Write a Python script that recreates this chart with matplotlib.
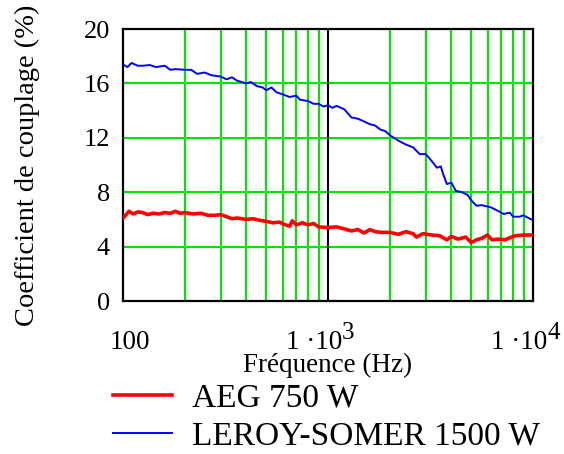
import matplotlib

matplotlib.use("Agg")
import matplotlib.pyplot as plt  # noqa: E402
from matplotlib.transforms import ScaledTranslation  # noqa: E402

plt.rcParams["font.family"] = ["Liberation Serif", "DejaVu Serif"]

# data
freq_aeg = [100, 103, 107, 112, 118, 125, 132, 140, 150, 160, 170, 180, 190,
            200, 220, 240, 260, 280, 300, 320, 340, 360, 400, 430, 460, 500,
            540, 580, 620, 650, 670, 700, 750, 800, 850, 900, 1000, 1100, 1200,
            1300, 1400, 1500, 1600, 1700, 1800, 2000, 2200, 2400, 2600, 2700,
            2900, 3200, 3500, 3800, 4000, 4300, 4700, 5000, 5300, 5600, 6000,
            6300, 6800, 7300, 7700, 8200, 9000, 10000]
coef_aeg = [6.1, 6.3, 6.6, 6.4, 6.55, 6.5, 6.35, 6.45, 6.4, 6.5, 6.45, 6.6,
            6.45, 6.5, 6.4, 6.45, 6.3, 6.3, 6.35, 6.2, 6.05, 6.1, 6.0, 6.05,
            5.95, 5.85, 5.75, 5.8, 5.6, 5.5, 5.9, 5.6, 5.75, 5.6, 5.7, 5.45,
            5.4, 5.45, 5.3, 5.15, 5.25, 5.0, 5.25, 5.1, 5.05, 5.05, 4.9, 5.1,
            4.95, 4.7, 4.95, 4.85, 4.8, 4.5, 4.75, 4.55, 4.7, 4.3, 4.5, 4.6,
            4.85, 4.5, 4.55, 4.5, 4.65, 4.8, 4.85, 4.85]

freq_ls = [100, 105, 110, 118, 125, 135, 145, 160, 170, 180, 200, 215, 230,
           250, 270, 300, 320, 340, 360, 400, 420, 450, 480, 500, 530, 560,
           600, 650, 700, 730, 800, 850, 900, 950, 1000, 1050, 1100, 1200,
           1300, 1400, 1500, 1600, 1700, 1800, 1900, 2000, 2200, 2400, 2600,
           2800, 3000, 3200, 3400, 3550, 3650, 3800, 4000, 4200, 4500, 4800,
           5000, 5300, 5600, 6200, 6800, 7200, 7700, 8000, 8600, 9000, 9500,
           10000]
coef_ls = [17.4, 17.2, 17.5, 17.3, 17.3, 17.35, 17.2, 17.3, 17.0, 17.05, 17.0,
           17.0, 16.7, 16.8, 16.6, 16.5, 16.3, 16.45, 16.2, 16.0, 16.1, 15.8,
           15.7, 15.5, 15.7, 15.35, 15.2, 15.0, 15.1, 14.8, 14.7, 14.5, 14.5,
           14.3, 14.4, 14.2, 14.35, 14.1, 13.5, 13.4, 13.2, 13.0, 12.9, 12.6,
           12.5, 12.2, 11.8, 11.5, 11.3, 10.8, 10.8, 10.3, 9.8, 9.9, 9.3, 8.6,
           8.7, 8.1, 8.0, 7.8, 7.4, 7.0, 7.05, 6.9, 6.6, 6.4, 6.5, 6.2, 6.2,
           6.3, 6.1, 5.95]

yticks = [0, 4, 8, 12, 16, 20]
xticks = [100, 1000, 10000]
xtick_mant = ["100", "1 ·10", "1 ·10"]   # Mathcad style "1·10^n"
xtick_exp = ["", "3", "4"]

GREEN = "#00e600"

fig = plt.figure(figsize=(5.64, 4.54), dpi=100)
ax = fig.add_axes([123 / 564, 1 - 301 / 454, 410 / 564, 272 / 454])
ax.set_xscale("log")
ax.set_xlim(100, 10000)
ax.set_ylim(0, 20)

# grid: green minor verticals, green horizontals, black decade line
for f in list(range(200, 1000, 100)) + list(range(2000, 10000, 1000)):
    ax.axvline(f, color=GREEN, lw=1.5, zorder=1)
for y in yticks[1:-1]:
    ax.axhline(y, color=GREEN, lw=1.5, zorder=1)
ax.axvline(1000, color="black", lw=1.5, zorder=1)

ax.plot(freq_aeg, coef_aeg, color="#ff0000", lw=2.6, label="AEG 750 W",
        zorder=3)
ax.plot(freq_ls, coef_ls, color="#0000ff", lw=1.4,
        label="LEROY-SOMER 1500 W", zorder=3)

ax.set_yticks(yticks)
ax.set_xticks(xticks)
ax.set_xticklabels([])
ax.minorticks_off()
ax.tick_params(length=0, labelsize=19)
ax.tick_params(axis="y", pad=9.5)


def px(dx, dy):
    return ScaledTranslation(dx / 100, dy / 100, fig.dpi_scale_trans)


# x tick labels drawn by hand: mantissa + raised exponent
xt = ax.get_xaxis_transform()
for x, m, e in zip(xticks, xtick_mant, xtick_exp):
    if not e:
        ax.text(x, 0, m, transform=xt + px(7, -48), ha="center",
                va="baseline", fontsize=19.5)
        continue
    ax.text(x, 0, m, transform=xt + px(14, -48), ha="right", va="baseline",
            fontsize=19.5)
    ax.text(x, 0, e, transform=xt + px(14, -38), ha="left", va="baseline",
            fontsize=18, clip_on=False)

for s in ax.spines.values():
    s.set_linewidth(1.6)

ax.set_ylabel("Coefficient de couplage (%)", fontsize=20.5, labelpad=31)
ax.set_xlabel("Fréquence (Hz)", fontsize=19.5, va="top")
ax.xaxis.set_label_coords(0.5, (301 - 353) / 272)

fig.legend(loc="upper left", bbox_to_anchor=(113 / 564, 1 - 383 / 454),
           frameon=False, fontsize=24, handlelength=1.76, handletextpad=0.6,
           labelspacing=0.22, borderpad=0, borderaxespad=0)

fig.savefig("out.png", dpi=100)
